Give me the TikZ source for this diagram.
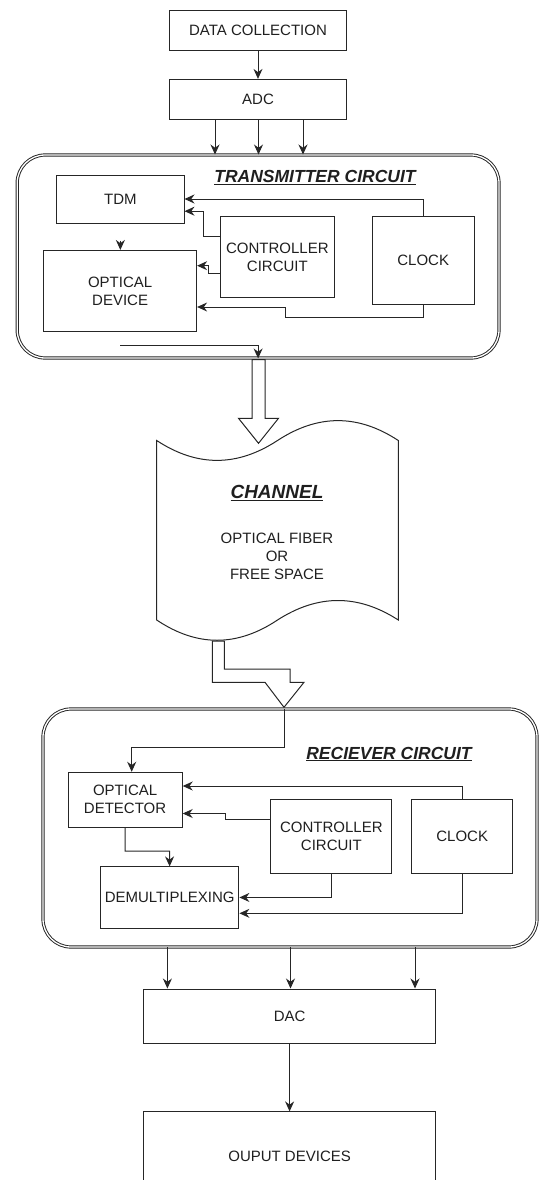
\documentclass[tikz,border=0pt]{standalone}
\usepackage{fontspec}
\setmainfont{Liberation Sans}
\usetikzlibrary{positioning}
\usetikzlibrary{arrows.meta}

\begin{document}
\begin{tikzpicture}[
        x=1pt, y=-1pt,
        font=\fontsize{15}{18}\selectfont, text=black!88,
        box/.style={rectangle, draw=black!85, line width=1pt, inner sep=0pt, align=center},
        frame/.style={rectangle, draw=black!85, double, double distance=1.3pt, line width=0.95pt, rounded corners=28pt, inner sep=0pt},
        title/.style={font=\fontsize{17.5}{20}\selectfont\bfseries\itshape},
        line/.style={draw=black!85, line width=1pt},
        arrow/.style={-{Stealth[length=10pt,width=9pt]}, line width=1pt, draw=black!85},
        hollow/.style={draw=black!85, line width=1pt, fill=white, line join=miter}
        ]

        \useasboundingbox (0,0) rectangle (539,1180);
        \clip (0,0) rectangle (539,1180);

        % Nodes
        \node[box, minimum width=177pt, minimum height=40.6pt] (datacoll) at (258,30.6) {DATA COLLECTION};
        \node[box, minimum width=177pt, minimum height=40.5pt, below=27.5pt of datacoll] (adc) {ADC};

        % Transmitter
        \node[frame, minimum width=481.8pt, minimum height=203pt] (tx) at (258.1,256.5) {};
        \node[title] (txtitle) at (315,177.5) {\underline{TRANSMITTER CIRCUIT}};
        \node[box, minimum width=127.3pt, minimum height=48pt] (tdm) at (120.35,199) {TDM};
        \node[box, minimum width=152.9pt, minimum height=81.1pt] (optdev) at (120.15,291) {OPTICAL\\DEVICE};
        \node[box, minimum width=113.3pt, minimum height=81.8pt] (txctrl) at (277.35,256.9) {CONTROLLER\\CIRCUIT};
        \node[box, minimum width=102.4pt, minimum height=88.4pt] (txclock) at (423.2,260.5) {CLOCK};
        \coordinate (txout) at (120.3,345.3);

        % Channel
        \draw[line] (156.7,440.5) .. controls (197,467) and (237,467) .. (277.5,440.5)
            .. controls (318,414) and (358,414) .. (398.3,440.5) -- (398.3,620)
            .. controls (358,594) and (318,594) .. (277.5,620)
            .. controls (237,647) and (197,647) .. (156.7,620) -- cycle;
        \node[title, font=\fontsize{19}{22}\selectfont\bfseries\itshape] (chtitle) at (277,493) {\underline{CHANNEL}};
        \node[align=center] (chtext) at (277,556.5) {OPTICAL FIBER\\OR\\FREE SPACE};

        % Hollow arrows
        \draw[hollow] (252,359.6) -- (265,359.6) -- (265,418.3) -- (278.5,418.3) -- (258.5,443.3)
            -- (238.5,418.3) -- (252,418.3) -- cycle;
        \draw[hollow] (212.3,641) -- (224.3,641) -- (224.3,669) -- (290,669) -- (290,682.3)
            -- (304,682.3) -- (284,707.3) -- (265,682.3) -- (212.3,682.3) -- cycle;

        % Receiver
        \node[frame, minimum width=494pt, minimum height=238pt] (rx) at (290,828) {};
        \node[title] (rxtitle) at (389,754) {\underline{RECIEVER CIRCUIT}};
        \node[box, minimum width=114.2pt, minimum height=54.7pt] (optdet) at (125.1,799.65) {OPTICAL\\DETECTOR};
        \node[box, minimum width=121pt, minimum height=73.6pt] (rxctrl) at (331.4,836.2) {CONTROLLER\\CIRCUIT};
        \node[box, minimum width=101.4pt, minimum height=74.4pt] (rxclock) at (462.2,836.6) {CLOCK};
        \node[box, minimum width=138.5pt, minimum height=61.1pt] (demux) at (169.65,897.45) {DEMULTIPLEXING};
        \coordinate (rxin) at (284,709);

        \node[box, minimum width=291.8pt, minimum height=54.9pt] (dac) at (289.6,1016.45) {DAC};
        \node[box, minimum width=291.8pt, minimum height=88pt, below=67pt of dac] (output) {OUPUT DEVICES};

        % Arrows
        \draw[arrow] (datacoll) -- (adc);
        \foreach \xx in {215,258.5,303}
            \draw[arrow] (adc.south -| \xx,0) -- (tx.north -| \xx,0);
        \draw[arrow] (txclock.north) |- (tdm.east);
        \draw[arrow] (txctrl.west |- 0,236.6) -| (203.5,211.2) -- (tdm.east |- 0,211.2);
        \draw[arrow] (txctrl.west |- 0,273.3) -| (208.3,265.7) -- (optdev.east |- 0,265.7);
        \draw[arrow] (txclock.south) |- (285.3,317.8) |- (optdev.east |- 0,307);
        \draw[arrow, shorten <=17pt] (tdm.south) -- (tdm.south |- optdev.north);
        \draw[arrow] (txout) -| (tx.south);

        \draw[arrow] (rxin) |- (131.7,747.9) -- (optdet.north -| 131.7,0);
        \draw[arrow] (rxclock.north) |- (optdet.east |- 0,786);
        \draw[arrow] (rxctrl.west |- 0,819.4) -| (225.9,813.5) -- (optdet.east |- 0,813.5);
        \draw[arrow] (optdet.south) |- (169.5,851) -- (demux.north);
        \draw[arrow] (rxctrl.south) |- (demux.east);
        \draw[arrow] (rxclock.south) |- (demux.east |- 0,913.3);
        \foreach \xx in {167.4,290.5,415}
            \draw[arrow] (rx.south -| \xx,0) -- (dac.north -| \xx,0);
        \draw[arrow] (dac) -- (output);

    \end{tikzpicture}
\end{document}
